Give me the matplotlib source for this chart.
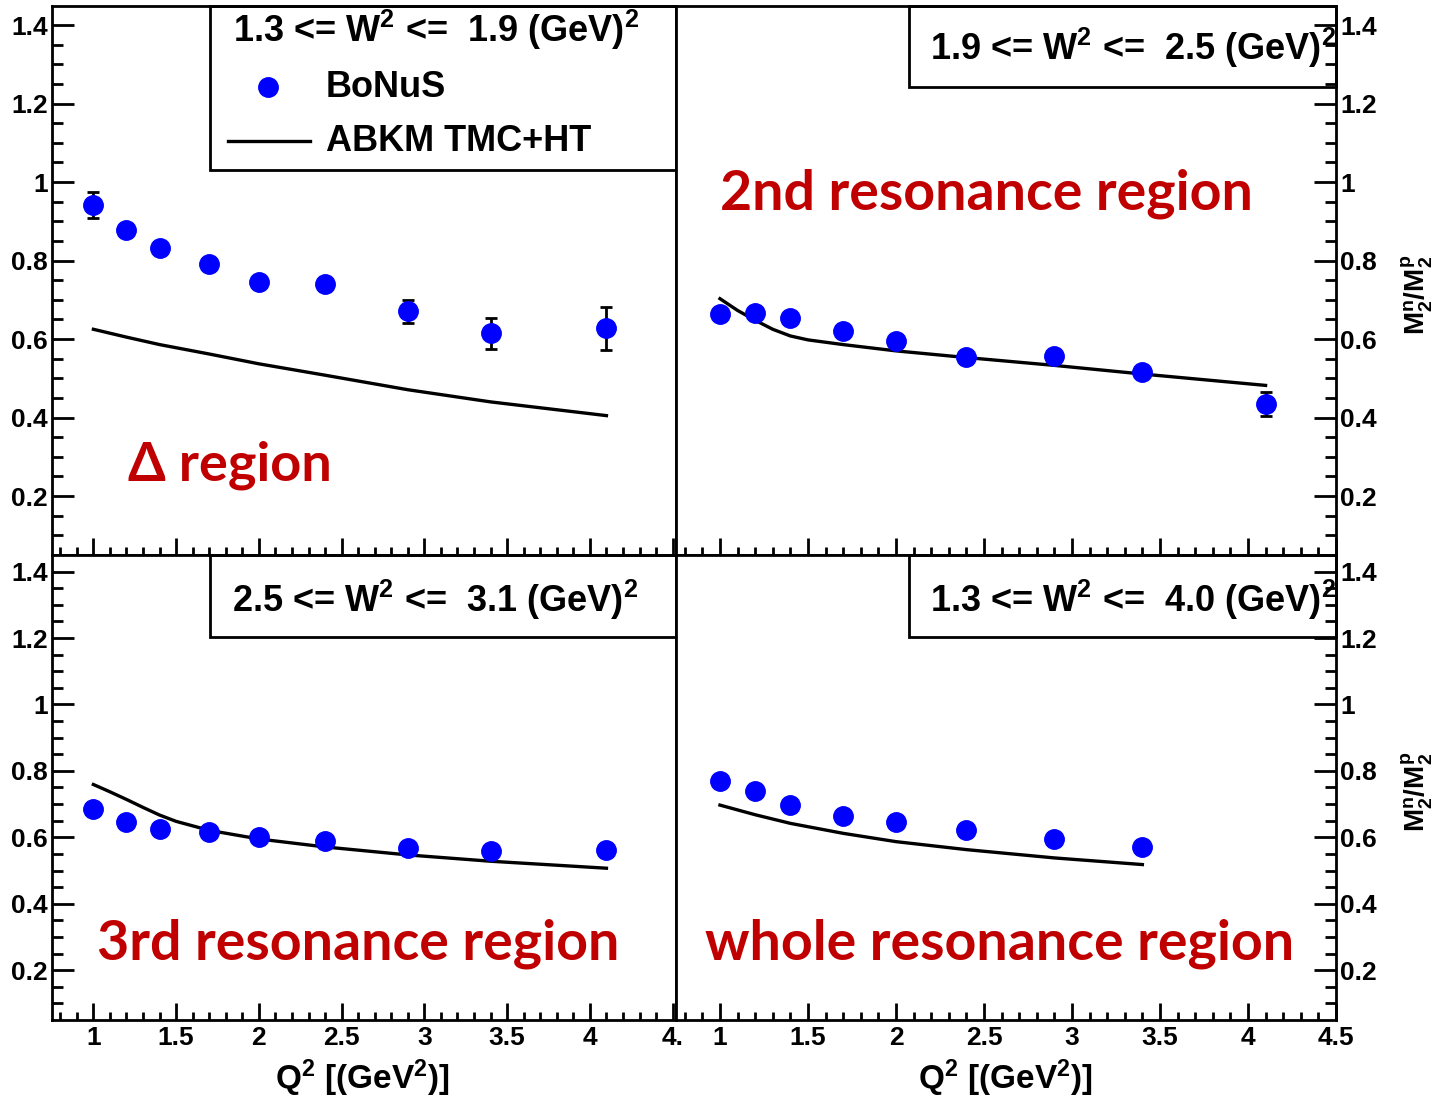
import numpy as np
import matplotlib.pyplot as plt
from matplotlib.patches import Rectangle
from matplotlib.lines import Line2D

plt.rcParams['font.family'] = ['Liberation Sans', 'DejaVu Sans']
plt.rcParams['font.weight'] = 'bold'
plt.rcParams['mathtext.fontset'] = 'custom'
plt.rcParams['mathtext.rm'] = 'Liberation Sans:bold'
plt.rcParams['mathtext.it'] = 'Liberation Sans:bold'
plt.rcParams['mathtext.bf'] = 'Liberation Sans:bold'
plt.rcParams['mathtext.default'] = 'rm'

# Q^2 bins
q2 = [1.0, 1.2, 1.4, 1.7, 2.0, 2.4, 2.9, 3.4, 4.1]
q2_whole = [1.0, 1.2, 1.4, 1.7, 2.0, 2.4, 2.9, 3.4]
# finer Q^2 grid for the curves that bend at low Q^2
q2_curve = [1.0, 1.1, 1.2, 1.3, 1.4, 1.5, 1.7, 2.0, 2.4, 2.9, 3.4, 4.1]

# Delta region
delta_data = [0.941, 0.878, 0.831, 0.792, 0.746, 0.741, 0.671, 0.615, 0.627]
delta_err = [0.033, 0.010, 0.010, 0.010, 0.010, 0.010, 0.029, 0.040, 0.056]
delta_abkm = [0.625, 0.605, 0.586, 0.562, 0.537, 0.508, 0.471, 0.440, 0.405]

# 2nd resonance region
second_data = [0.664, 0.667, 0.653, 0.621, 0.594, 0.555, 0.558, 0.516, 0.434]
second_err = [0.010, 0.010, 0.010, 0.010, 0.010, 0.010, 0.010, 0.010, 0.030]
second_abkm = [0.703, 0.673, 0.648, 0.625, 0.608, 0.598, 0.586, 0.570, 0.553, 0.533, 0.511, 0.482]

# 3rd resonance region
third_data = [0.684, 0.646, 0.626, 0.615, 0.600, 0.589, 0.569, 0.558, 0.562]
third_err = [0.010, 0.010, 0.010, 0.010, 0.010, 0.010, 0.010, 0.010, 0.010]
third_abkm = [0.759, 0.737, 0.714, 0.690, 0.667, 0.648, 0.621, 0.595, 0.571, 0.547, 0.528, 0.507]

# whole resonance region
whole_data = [0.770, 0.738, 0.697, 0.663, 0.645, 0.623, 0.596, 0.572]
whole_err = [0.010, 0.010, 0.010, 0.010, 0.010, 0.010, 0.010, 0.010]
whole_abkm = [0.697, 0.668, 0.642, 0.612, 0.587, 0.563, 0.538, 0.518]

w2_labels = ['1.3 <= W$^2$ <=  1.9 (GeV)$^2$', '1.9 <= W$^2$ <=  2.5 (GeV)$^2$',
             '2.5 <= W$^2$ <=  3.1 (GeV)$^2$', '1.3 <= W$^2$ <=  4.0 (GeV)$^2$']
region_labels = ['Δ region', '2nd resonance region',
                 '3rd resonance region', 'whole resonance region']
xtick_vals = [1, 1.5, 2, 2.5, 3, 3.5, 4, 4.5]
xtick_left = ['1', '1.5', '2', '2.5', '3', '3.5', '4', '4.']
xtick_right = ['1', '1.5', '2', '2.5', '3', '3.5', '4', '4.5']

red = '#c00000'
blue = '#0000ff'

fig = plt.figure(figsize=(14.49, 11.0), dpi=100)
ax_tl = fig.add_axes([0.0359, 0.4955, 0.4306, 0.4995])
ax_tr = fig.add_axes([0.4665, 0.4955, 0.4555, 0.4995])
ax_bl = fig.add_axes([0.0359, 0.0727, 0.4306, 0.4228])
ax_br = fig.add_axes([0.4665, 0.0727, 0.4555, 0.4228])

panels = [
    (ax_tl, q2, delta_data, delta_err, q2, delta_abkm, 'left', False),
    (ax_tr, q2, second_data, second_err, q2_curve, second_abkm, 'right', False),
    (ax_bl, q2, third_data, third_err, q2_curve, third_abkm, 'left', True),
    (ax_br, q2_whole, whole_data, whole_err, q2_whole, whole_abkm, 'right', True),
]

for i, (ax, x, y, e, xc, th, side, bottom) in enumerate(panels):
    ax.plot(xc, th, color='black', lw=2.4, zorder=2)
    ax.errorbar(x, y, yerr=e, fmt='o', color=blue, ms=14, mec=blue,
                ecolor='black', elinewidth=2, capsize=4, capthick=2, zorder=3)

    ax.set_ylim(0.05, 1.45)
    ax.set_xlim(0.75, 4.52 if side == 'left' else 4.5)
    for s in ax.spines.values():
        s.set_linewidth(2)

    ax.set_yticks([0.2, 0.4, 0.6, 0.8, 1.0, 1.2, 1.4])
    ax.set_yticklabels(['0.2', '0.4', '0.6', '0.8', '1', '1.2', '1.4'])
    ax.set_yticks(np.arange(0.1, 1.45, 0.05), minor=True)
    ax.set_xticks(xtick_vals)
    ax.set_xticks(np.arange(0.8, 4.55, 0.1), minor=True)

    ax.tick_params(axis='both', which='both', direction='in', width=2,
                   labelsize=19, top=False, right=(side == 'right'),
                   left=(side == 'left'), labelleft=(side == 'left'),
                   labelright=(side == 'right'))
    ax.tick_params(axis='y', which='major', length=16, pad=3)
    ax.tick_params(axis='y', which='minor', length=8)
    ax.tick_params(axis='x', which='major', length=12, pad=4)
    ax.tick_params(axis='x', which='minor', length=6)
    if bottom:
        ax.set_xticklabels(xtick_left if side == 'left' else xtick_right)
    else:
        ax.tick_params(axis='x', labelbottom=False)

    # box with W^2 range
    bx = 0.253 if side == 'left' else 0.353
    bh = (0.30 if i == 0 else 0.149) if not bottom else 0.176
    ax.add_patch(Rectangle((bx, 1 - bh), 1 - bx, bh, transform=ax.transAxes,
                           fill=False, lw=2, ec='black', zorder=4, clip_on=False))
    if i == 0:
        ax.text(0.290, 0.955, w2_labels[i], transform=ax.transAxes, ha='left',
                va='center', fontsize=26)
        ax.add_line(Line2D([0.346], [0.851], transform=ax.transAxes, marker='o',
                           ms=14, color=blue, ls='none'))
        ax.text(0.439, 0.851, 'BoNuS', transform=ax.transAxes, ha='left',
                va='center', fontsize=26)
        ax.add_line(Line2D([0.282, 0.413], [0.753, 0.753], transform=ax.transAxes,
                           color='black', lw=2.4))
        ax.text(0.439, 0.753, 'ABKM TMC+HT', transform=ax.transAxes, ha='left',
                va='center', fontsize=26)
    else:
        tx = 0.288 if side == 'left' else 0.385
        ty = 0.903 if bottom else 0.922
        ax.text(tx, ty, w2_labels[i], transform=ax.transAxes, ha='left',
                va='center', fontsize=26)

# red region labels
ax_tl.text(0.122, 0.164, region_labels[0], transform=ax_tl.transAxes, color=red,
           fontsize=39, fontweight='bold', family=['Lato', 'DejaVu Sans'], va='center')
ax_tr.text(0.067, 0.658, region_labels[1], transform=ax_tr.transAxes, color=red,
           fontsize=40, fontweight='bold', family=['Lato', 'DejaVu Sans'], va='center')
ax_bl.text(0.072, 0.163, region_labels[2], transform=ax_bl.transAxes, color=red,
           fontsize=40, fontweight='bold', family=['Lato', 'DejaVu Sans'], va='center')
ax_br.text(0.044, 0.163, region_labels[3], transform=ax_br.transAxes, color=red,
           fontsize=40, fontweight='bold', family=['Lato', 'DejaVu Sans'], va='center')

# axis titles
fig.text(0.250, 0.020, 'Q$^2$ [(GeV$^2$)]', ha='center', va='center', fontsize=24)
fig.text(0.694, 0.020, 'Q$^2$ [(GeV$^2$)]', ha='center', va='center', fontsize=24)
fig.text(0.978, 0.732, 'M$_2^n$/M$_2^p$', ha='center', va='center', rotation=90, fontsize=20)
fig.text(0.978, 0.280, 'M$_2^n$/M$_2^p$', ha='center', va='center', rotation=90, fontsize=20)

fig.savefig('out.png', dpi=100)
